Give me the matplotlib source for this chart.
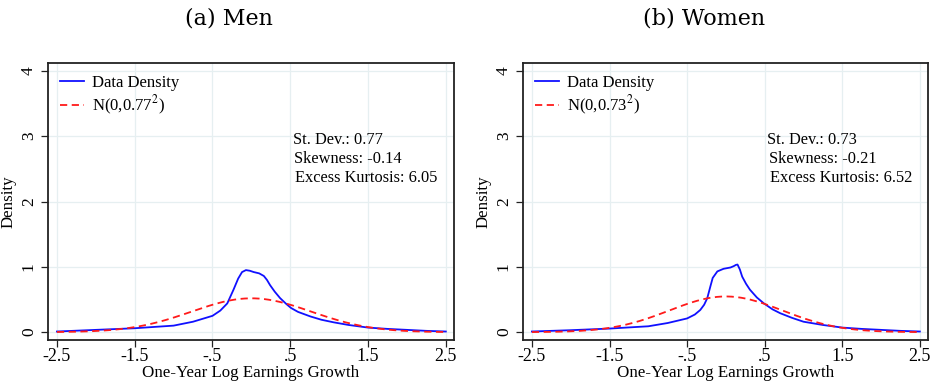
import numpy as np
import matplotlib
matplotlib.use("Agg")
import matplotlib.pyplot as plt

# kernel density of one-year log earnings growth (read off the estimates)
men_x = [-2.5, -2.0, -1.5, -1.0, -0.75, -0.5, -0.4, -0.31, -0.23, -0.17, -0.12, -0.07,
         -0.02, 0.03, 0.1, 0.16, 0.2, 0.24, 0.3, 0.37, 0.45, 0.51, 0.6, 0.76, 0.9,
         1.06, 1.25, 1.5, 1.75, 2.0, 2.25, 2.5]
men_y = [0.01, 0.035, 0.06, 0.10, 0.16, 0.25, 0.33, 0.44, 0.65, 0.82, 0.92, 0.95,
         0.94, 0.92, 0.90, 0.86, 0.80, 0.72, 0.62, 0.52, 0.43, 0.37, 0.31, 0.24, 0.19,
         0.15, 0.11, 0.07, 0.05, 0.035, 0.02, 0.01]

women_x = [-2.5, -2.0, -1.5, -1.0, -0.75, -0.5, -0.4, -0.33, -0.28, -0.24, -0.2, -0.17,
           -0.11, -0.03, 0.06, 0.1, 0.13, 0.15, 0.18, 0.21, 0.26, 0.31, 0.4, 0.49, 0.6,
           0.7, 0.85, 1.0, 1.25, 1.5, 1.75, 2.0, 2.25, 2.5]
women_y = [0.01, 0.03, 0.055, 0.09, 0.14, 0.21, 0.27, 0.34, 0.42, 0.52, 0.70, 0.83,
           0.93, 0.97, 0.99, 1.01, 1.03, 1.035, 0.96, 0.85, 0.74, 0.65, 0.53, 0.44, 0.35,
           0.29, 0.22, 0.16, 0.11, 0.07, 0.05, 0.035, 0.02, 0.01]

titles = ["(a) Men", "(b) Women"]
sigmas = [0.77, 0.73]
skews = [-0.14, -0.21]
kurts = [6.05, 6.52]
xticks = [-2.5, -1.5, -0.5, 0.5, 1.5, 2.5]
xticklabels = ["-2.5", "-1.5", "-.5", ".5", "1.5", "2.5"]
yticks = [0, 1, 2, 3, 4]

plt.rcParams["font.family"] = ["Liberation Serif", "DejaVu Serif"]
plt.rcParams["mathtext.fontset"] = "stix"

fig = plt.figure(figsize=(9.37, 3.86), dpi=100)
W, H = 937, 386
boxes = [(48, 63, 454, 340), (523, 63, 928, 340)]
title_x = [229, 704]
curves = [(men_x, men_y), (women_x, women_y)]
grid_col = "#e6eff1"
axis_col = "#222222"

for i in range(2):
    x0, y0, x1, y1 = boxes[i]
    ax = fig.add_axes([x0 / W, 1 - y1 / H, (x1 - x0) / W, (y1 - y0) / H])
    dx, dy = curves[i]
    s = sigmas[i]
    xs = np.linspace(-2.5, 2.5, 401)
    normal = np.exp(-0.5 * (xs / s) ** 2) / (s * np.sqrt(2 * np.pi))

    ax.plot(dx, dy, color="#1010ff", lw=1.3, label="Data Density", zorder=3)
    ax.plot(xs, normal, color="#ff1a1a", lw=1.3, ls=(0, (4, 2.5)),
            label=r"N(0,%.2f$^2$)" % s, zorder=3)

    ax.set_xlim(-2.615, 2.605)
    ax.set_ylim(-0.12, 4.12)
    ax.set_xticks(xticks)
    ax.set_xticklabels(xticklabels)
    ax.set_yticks(yticks)
    ax.tick_params(axis="y", labelrotation=90, length=5, width=0.9, color=axis_col,
                   labelsize=12.5, pad=3)
    ax.tick_params(axis="x", length=5, width=0.9, color=axis_col, labelsize=13, pad=1)
    for lab in ax.get_yticklabels():
        lab.set_va("center")
    ax.grid(True, color=grid_col, lw=0.9)
    ax.set_axisbelow(True)
    for sp in ax.spines.values():
        sp.set_color(axis_col)
        sp.set_linewidth(1.3)

    ax.set_xlabel("One-Year Log Earnings Growth", fontsize=12.2, labelpad=0)
    ax.set_ylabel("Density", fontsize=12.2, labelpad=3)
    fig.text(title_x[i] / W, 1 - 18 / H, titles[i], fontsize=16,
             family="DejaVu Serif", ha="center", va="center")

    ax.legend(loc="upper left", frameon=False, fontsize=12, handlelength=1.45,
              handletextpad=0.5, borderaxespad=0.3, labelspacing=0.2,
              bbox_to_anchor=(0.0, 1.0))

    ax.text(0.533, 2.94, "St. Dev.: %.2f" % s, fontsize=11.8, va="center")
    ax.text(0.55, 2.65, "Skewness: %.2f" % skews[i], fontsize=11.8, va="center")
    ax.text(0.565, 2.36, "Excess Kurtosis: %.2f" % kurts[i], fontsize=11.8, va="center")

fig.savefig("out.png", dpi=100)
